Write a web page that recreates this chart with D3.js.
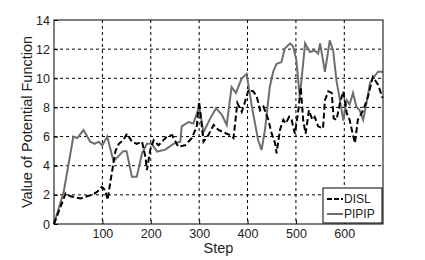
<!DOCTYPE html>
<html>
<head>
<meta charset="utf-8">
<script src="https://cdn.jsdelivr.net/npm/d3@7"></script>
<style>
  body { margin: 0; background: #fff; }
  svg text { font-family: Arial, "Liberation Sans", sans-serif; fill: #222; }
</style>
</head>
<body>
<svg id="chart"></svg>
<script>
const width = 425;
const height = 260;

// Step values and potential function values
const pipipSteps = [0, 20, 40, 48, 61, 75, 84, 92, 100, 110, 123, 143, 150, 161, 171, 182, 192, 202, 213, 230, 247, 261, 264, 278, 288, 300, 309, 323, 335, 347, 357, 367, 376, 388, 398, 409, 422, 429, 436, 446, 453, 460, 470, 477, 488, 494, 501, 508, 519, 529, 539, 546, 550, 560, 570, 577, 584, 591, 598, 605, 611, 618, 625, 632, 639, 646, 653, 659, 670, 680];
const pipipValues = [0, 2.2, 6.0, 5.9, 6.45, 5.65, 5.5, 5.65, 5.4, 6.0, 4.3, 5.0, 5.0, 3.25, 3.25, 4.85, 5.5, 5.5, 4.96, 5.1, 5.5, 5.65, 6.7, 7.0, 6.9, 8.05, 6.3, 7.25, 7.95, 7.5, 6.8, 9.4, 9.0, 10.0, 10.3, 8.05, 5.75, 5.08, 6.45, 9.4, 10.45, 11.0, 11.1, 12.05, 12.4, 12.2, 11.25, 8.7, 12.4, 11.8, 11.9, 11.7, 12.4, 10.45, 12.6, 11.9, 9.8, 8.5, 7.1, 8.5, 8.2, 9.0, 8.05, 7.8, 7.15, 8.3, 9.65, 10.0, 10.45, 10.45];

const dislSteps = [0, 24, 34, 55, 68, 79, 89, 99, 106, 111, 116, 127, 134, 143, 151, 161, 171, 182, 189, 192, 199, 206, 216, 233, 244, 257, 271, 285, 295, 300, 309, 319, 330, 340, 350, 364, 371, 379, 388, 395, 402, 412, 419, 426, 433, 443, 450, 457, 460, 467, 474, 479, 486, 491, 498, 505, 510, 515, 520, 527, 534, 539, 546, 556, 560, 567, 574, 578, 584, 591, 598, 605, 611, 618, 622, 628, 639, 649, 659, 670, 679];
const dislValues = [0, 2.1, 1.9, 1.75, 1.9, 2.0, 2.2, 2.55, 2.3, 1.65, 2.8, 5.0, 5.5, 5.75, 6.2, 5.65, 5.5, 5.65, 4.6, 3.7, 5.1, 5.75, 5.4, 6.0, 6.1, 5.3, 5.4, 5.9, 6.7, 8.4, 5.65, 6.1, 6.8, 6.45, 6.3, 6.1, 5.9, 8.3, 7.7, 8.4, 9.2, 9.1, 8.75, 7.8, 8.05, 7.15, 6.2, 5.55, 4.85, 6.45, 7.15, 6.9, 7.35, 7.15, 6.2, 7.8, 9.4, 7.15, 6.2, 7.8, 7.15, 7.35, 6.7, 6.55, 8.5, 9.1, 9.0, 7.25, 7.15, 8.3, 9.1, 7.6, 7.15, 6.1, 5.55, 7.15, 7.8, 8.75, 10.1, 9.55, 8.65];

const xTicks = [100, 200, 300, 400, 500, 600];
const yTicks = [0, 2, 4, 6, 8, 10, 12, 14];
const seriesNames = ["DISL", "PIPIP"];

const margin = { top: 20, right: 42, bottom: 36, left: 54 };
const innerW = width - margin.left - margin.right;
const innerH = height - margin.top - margin.bottom;

const svg = d3.select("#chart")
    .attr("width", width)
    .attr("height", height);

const x = d3.scaleLinear().domain([0, 680]).range([0, innerW]);
const y = d3.scaleLinear().domain([0, 14]).range([innerH, 0]);

const g = svg.append("g").attr("transform", `translate(${margin.left},${margin.top})`);

// dotted grid
g.selectAll(".vgrid")
    .data(xTicks)
    .join("line")
    .attr("x1", d => x(d)).attr("x2", d => x(d))
    .attr("y1", 0).attr("y2", innerH)
    .attr("stroke", "#000").attr("stroke-width", 1)
    .attr("stroke-dasharray", "3,3");

g.selectAll(".hgrid")
    .data(yTicks.filter(d => d > 0 && d < 14))
    .join("line")
    .attr("x1", 0).attr("x2", innerW)
    .attr("y1", d => y(d)).attr("y2", d => y(d))
    .attr("stroke", "#000").attr("stroke-width", 1)
    .attr("stroke-dasharray", "3,3");

const line = d3.line()
    .x(d => x(d[0]))
    .y(d => y(d[1]));

const pipip = pipipSteps.map((s, i) => [s, pipipValues[i]]);
const disl = dislSteps.map((s, i) => [s, dislValues[i]]);

g.append("path")
    .datum(pipip)
    .attr("d", line)
    .attr("fill", "none")
    .attr("stroke", "#6e6e6e")
    .attr("stroke-width", 2);

g.append("path")
    .datum(disl)
    .attr("d", line)
    .attr("fill", "none")
    .attr("stroke", "#000")
    .attr("stroke-width", 2)
    .attr("stroke-dasharray", "6,3");

// frame
g.append("rect")
    .attr("width", innerW).attr("height", innerH)
    .attr("fill", "none").attr("stroke", "#000").attr("stroke-width", 1);

// axes
const xAxis = g.append("g")
    .attr("transform", `translate(0,${innerH})`)
    .call(d3.axisBottom(x).tickValues(xTicks).tickSize(-4).tickPadding(5));
const yAxis = g.append("g")
    .call(d3.axisLeft(y).tickValues(yTicks).tickSize(-4).tickPadding(4));

[xAxis, yAxis].forEach(a => {
    a.select(".domain").remove();
    a.selectAll(".tick line").attr("stroke", "#000");
    a.selectAll("text").style("font-size", "12.5px").attr("fill", "#222");
});

svg.append("text")
    .attr("x", margin.left + x(340))
    .attr("y", 253)
    .attr("text-anchor", "middle")
    .style("font-size", "14.5px")
    .text("Step");

svg.append("text")
    .attr("transform", `translate(32,${margin.top + innerH / 2}) rotate(-90)`)
    .attr("text-anchor", "middle")
    .style("font-size", "14.5px")
    .text("Value of Potential Function");

// legend
const legend = svg.append("g").attr("transform", "translate(323,188)");
legend.append("rect")
    .attr("width", 59).attr("height", 35)
    .attr("fill", "#fff").attr("stroke", "#000");

const legendItems = legend.selectAll(".item")
    .data(seriesNames)
    .join("g")
    .attr("transform", (d, i) => `translate(0,${11 + i * 15})`);

legendItems.append("line")
    .attr("x1", 4).attr("x2", 20)
    .attr("stroke", (d, i) => i === 0 ? "#000" : "#6e6e6e")
    .attr("stroke-width", 2)
    .attr("stroke-dasharray", (d, i) => i === 0 ? "5,2" : null);

legendItems.append("text")
    .attr("x", 21)
    .attr("dy", "0.35em")
    .style("font-size", "12px")
    .text(d => d);
</script>
</body>
</html>
